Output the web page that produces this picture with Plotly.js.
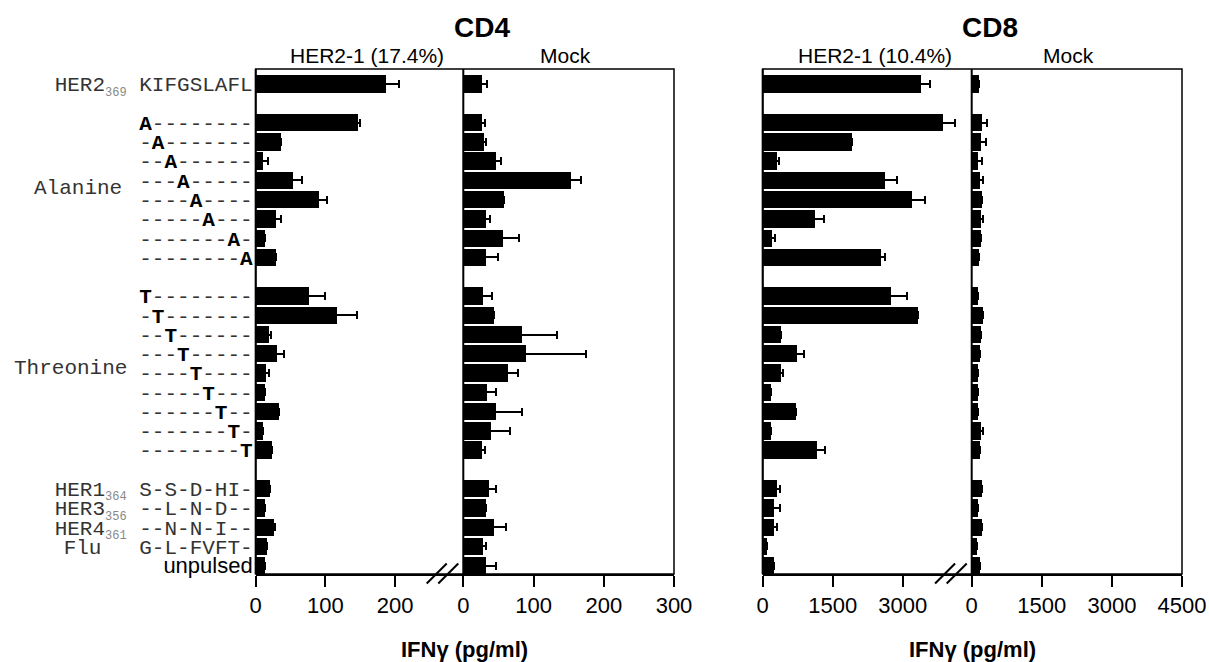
<!DOCTYPE html>
<html><head><meta charset="utf-8">
<script src="https://cdn.plot.ly/plotly-3.0.1.min.js"></script>
<style>html,body{margin:0;padding:0;background:#fff}#chart{width:1209px;height:662px}</style>
</head><body><div id="chart"></div>
<script>
// ---- data ----
const groupSizes = [1, 8, 9, 5];
const rowLabels = [
  'HER2<sub><span style="color:#888;font-size:12px">369</span></sub> KIFGSLAFL',
  '<b style="color:#000">A</b>--------', '-<b style="color:#000">A</b>-------', '--<b style="color:#000">A</b>------', '---<b style="color:#000">A</b>-----',
  '----<b style="color:#000">A</b>----', '-----<b style="color:#000">A</b>---', '-------<b style="color:#000">A</b>-', '--------<b style="color:#000">A</b>',
  '<b style="color:#000">T</b>--------', '-<b style="color:#000">T</b>-------', '--<b style="color:#000">T</b>------', '---<b style="color:#000">T</b>-----',
  '----<b style="color:#000">T</b>----', '-----<b style="color:#000">T</b>---', '------<b style="color:#000">T</b>--', '-------<b style="color:#000">T</b>-', '--------<b style="color:#000">T</b>',
  'HER1<sub><span style="color:#888;font-size:12px">364</span></sub> S-S-D-HI-',
  'HER3<sub><span style="color:#888;font-size:12px">356</span></sub> --L-N-D--',
  'HER4<sub><span style="color:#888;font-size:12px">361</span></sub> --N-N-I--',
  'Flu   G-L-FVFT-',
  '<span style="font-family:\'Liberation Sans\',Arial,sans-serif;color:#000;font-size:22px">unpulsed</span>'
];
const groupNames = ['Alanine', 'Threonine'];

const cd4Her2    = [187, 147, 36, 10, 54, 91, 29, 13, 29, 76, 117, 19, 31, 15, 14, 34, 11, 23, 20, 13, 26, 16, 13];
const cd4Her2Err = [19, 2, 1, 7, 13, 11, 7, 0, 0, 24, 28, 3, 10, 4, 0, 0, 0, 0, 0, 0, 2, 0, 0];
const cd4Mock    = [27, 26, 30, 46, 153, 58, 33, 57, 33, 28, 44, 83, 89, 64, 34, 47, 40, 26, 37, 33, 44, 28, 32];
const cd4MockErr = [7, 5, 2, 8, 15, 0, 5, 22, 17, 13, 0, 51, 86, 14, 12, 36, 26, 5, 10, 0, 17, 4, 14];
const cd8Her2    = [3386, 3857, 1921, 314, 2621, 3193, 1129, 207, 2529, 2743, 3321, 400, 729, 393, 171, 721, 171, 1157, 314, 250, 250, 86, 243];
const cd8Her2Err = [200, 257, 0, 43, 250, 286, 178, 64, 100, 343, 0, 0, 157, 36, 0, 0, 0, 172, 57, 121, 50, 0, 0];
const cd8Mock    = [164, 214, 193, 143, 179, 221, 193, 207, 150, 136, 236, 200, 179, 129, 129, 143, 200, 179, 214, 129, 214, 121, 171];
const cd8MockErr = [0, 107, 114, 71, 57, 0, 57, 0, 0, 0, 0, 0, 0, 0, 0, 0, 50, 0, 0, 0, 0, 0, 0];

const cd4Ticks1 = [0, 100, 200];
const cd4Ticks2 = [0, 100, 200, 300];
const cd8Ticks1 = [0, 1500, 3000];
const cd8Ticks2 = [0, 1500, 3000, 4500];

// ---- row slots (groups separated by one empty slot) ----
const slots = [];
const groupMid = [];
let off = 0;
groupSizes.forEach((n, g) => {
  for (let i = 0; i < n; i++) slots.push(off + i);
  groupMid.push(off + (n - 1) / 2);
  off += n + 1;
});

const W = 1209, H = 662;
const px = x => x / W, py = y => 1 - y / H;
const MONO = "'Liberation Mono','Courier New',monospace";
const SANS = "'Liberation Sans',Arial,Helvetica,sans-serif";

function bar(xv, err, xa) {
  return {
    type: 'bar', orientation: 'h', x: xv, y: slots, xaxis: xa, yaxis: 'y',
    width: 0.9, marker: {color: '#000', line: {width: 0}},
    error_x: {type: 'data', array: err, visible: true, color: '#000', thickness: 2, width: 4},
    hoverinfo: 'x'
  };
}
const data = [
  bar(cd4Her2, cd4Her2Err, 'x'),
  bar(cd4Mock, cd4MockErr, 'x2'),
  bar(cd8Her2, cd8Her2Err, 'x3'),
  bar(cd8Mock, cd8MockErr, 'x4')
];

function xax(d0, d1, range, ticks) {
  return {
    domain: [px(d0), px(d1)], range: range, anchor: 'y', tickvals: ticks,
    showline: true, linecolor: '#000', linewidth: 2, ticks: 'outside', ticklen: 11, tickwidth: 2, tickcolor: '#000',
    showgrid: false, zeroline: false, tickfont: {family: SANS, size: 22, color: '#000'}, fixedrange: true
  };
}
const yTop = 69, yBot = 574;
const P = {a0: 255.7, a1: 463.3, a2: 674, b0: 762.7, b1: 971.7, b2: 1182};

const shapes = [];
function box(l, m, r) {
  shapes.push({type: 'rect', xref: 'paper', yref: 'paper', x0: px(l), x1: px(r), y0: py(yBot), y1: py(yTop), line: {color: '#000', width: 1.5}});
  shapes.push({type: 'line', xref: 'paper', yref: 'paper', x0: px(l), x1: px(l), y0: py(yBot), y1: py(yTop), line: {color: '#000', width: 2}});
  shapes.push({type: 'line', xref: 'paper', yref: 'paper', x0: px(m), x1: px(m), y0: py(yBot), y1: py(yTop), line: {color: '#000', width: 2}});
  // axis break marks
  [[-36.6, -16.6], [-25, -5]].forEach(([a, b]) => {
    shapes.push({type: 'line', xref: 'paper', yref: 'paper', x0: px(m + a), y0: py(583.5), x1: px(m + b), y1: py(563.5), line: {color: '#000', width: 2}});
  });
}
box(P.a0, P.a1, P.a2);
box(P.b0, P.b1, P.b2);

const ann = [];
function txt(x, y, t, size, bold, xanchor, font) {
  ann.push({xref: 'paper', yref: 'paper', x: px(x), y: py(y), text: bold ? '<b>' + t + '</b>' : t, showarrow: false,
    xanchor: xanchor || 'center', yanchor: 'middle', font: {family: font || SANS, size: size, color: '#000'}});
}
txt(482, 28, 'CD4', 28, true);
txt(990, 28, 'CD8', 28, true);
txt(367, 55, 'HER2-1 (17.4%)', 21);
txt(565, 55, 'Mock', 21);
txt(875, 55, 'HER2-1 (10.4%)', 21);
txt(1068, 55, 'Mock', 21);
txt(464, 649, 'IFNγ (pg/ml)', 22, true);
txt(972, 649, 'IFNγ (pg/ml)', 22, true);
// group names (Alanine / Threonine) placed next to their row groups
[[groupNames[0], groupMid[1] - 0.1, 124], [groupNames[1], groupMid[2] - 0.25, 129]].forEach(([t, s, xr]) => {
  ann.push({xref: 'paper', yref: 'y', x: px(xr), y: s, text: t, showarrow: false, xanchor: 'right', yanchor: 'middle',
    font: {family: MONO, size: 21, color: '#333'}});
});

const layout = {
  width: W, height: H, margin: {l: 0, r: 0, t: 0, b: 0}, paper_bgcolor: '#fff', plot_bgcolor: 'rgba(0,0,0,0)',
  showlegend: false, bargap: 0,
  xaxis: xax(P.a0, P.a1, [0, 297.8], cd4Ticks1),
  xaxis2: xax(P.a1, P.a2, [0, 300], cd4Ticks2),
  xaxis3: xax(P.b0, P.b1, [0, 4479], cd8Ticks1),
  xaxis4: xax(P.b1, P.b2, [0, 4500], cd8Ticks2),
  yaxis: {domain: [py(yBot), py(yTop)], range: [25.43, -0.78], tickvals: slots, ticktext: rowLabels, anchor: 'x',
    showline: false, showgrid: false, zeroline: false, ticks: '', ticklabelstandoff: 2,
    tickfont: {family: MONO, size: 21, color: '#333'}, fixedrange: true},
  shapes: shapes, annotations: ann
};
Plotly.newPlot('chart', data, layout, {displayModeBar: false, staticPlot: true});
</script></body></html>
